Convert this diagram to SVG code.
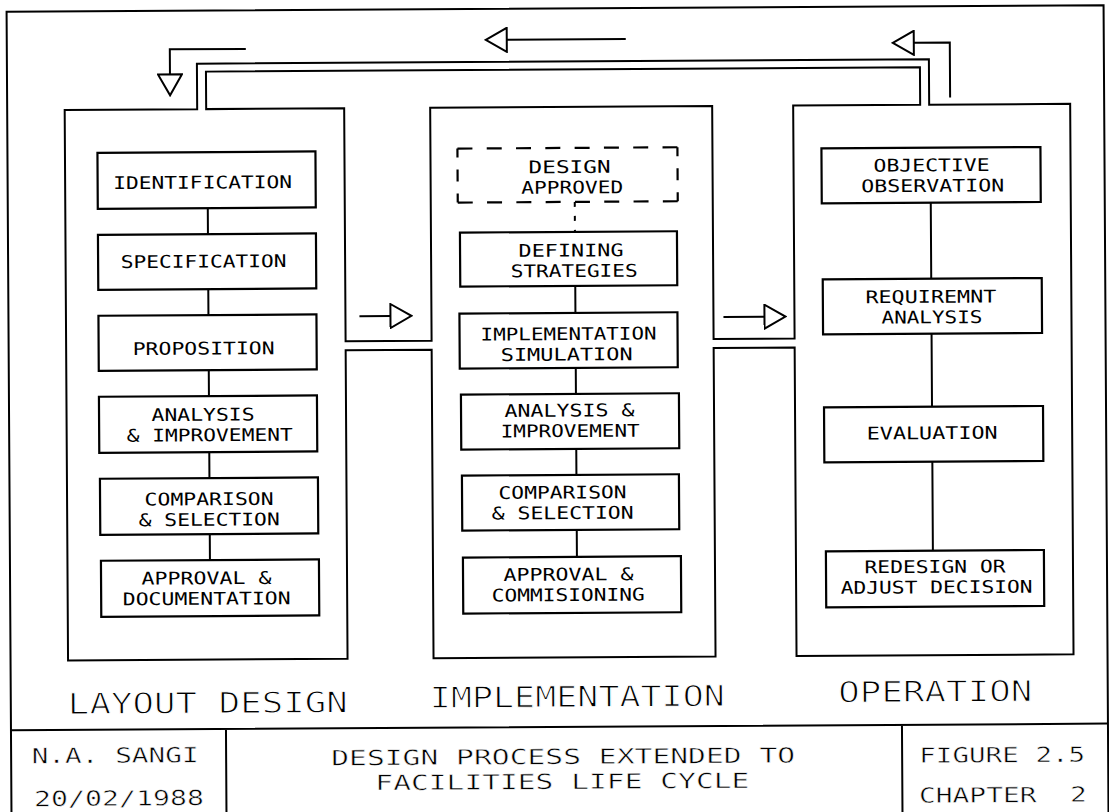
<svg xmlns="http://www.w3.org/2000/svg" width="1109" height="812" viewBox="0 0 1109 812">
<style>
  .ln { fill:none; stroke:#000; stroke-width:2; stroke-linejoin:miter; }
  .bx { fill:#fff; stroke:#000; stroke-width:2.2; }
  .dash { fill:none; stroke:#000; stroke-width:2.2; }
  .t { font-family:"DejaVu Sans Mono","Liberation Mono",monospace; font-size:17.5px; text-anchor:middle; fill:#000; }
  .lbl { font-size:29px; stroke:#fff; stroke-width:1; }
  .tb { font-size:21px; stroke:#fff; stroke-width:0.5; }
  .tt { font-size:21px; stroke:#fff; stroke-width:0.5; }
</style>
<defs>
  <marker id="tri" viewBox="0 0 24 26" refX="1" refY="13" markerWidth="24" markerHeight="26" markerUnits="userSpaceOnUse" orient="auto">
    <path d="M1,1 L22,13 L1,25 Z" fill="#fff" stroke="#000" stroke-width="2"/>
  </marker>
</defs>
<rect width="1109" height="812" fill="#fff"/>
<g transform="rotate(-0.35 554 406)">
  <g id="frame">
    <path class="ln" d="M9 830 V8.5 H1106 V830"/>
    <path class="ln" d="M9 727 H1106 M224 727 V830 M900 727 V830"/>
    <text class="t tb" x="113" y="760" textLength="167" lengthAdjust="spacingAndGlyphs">N.A. SANGI</text>
    <text class="t tb" x="116.5" y="803" textLength="170" lengthAdjust="spacingAndGlyphs">20/02/1988</text>
    <text class="t tt" x="561" y="764" textLength="464" lengthAdjust="spacingAndGlyphs">DESIGN PROCESS EXTENDED TO</text>
    <text class="t tt" x="560" y="789" textLength="374" lengthAdjust="spacingAndGlyphs">FACILITIES LIFE CYCLE</text>
    <text class="t tb" x="1000" y="765" textLength="166" lengthAdjust="spacingAndGlyphs">FIGURE 2.5</text>
    <text class="t tb" x="1000.5" y="805" textLength="168" lengthAdjust="spacingAndGlyphs" xml:space="preserve">CHAPTER  2</text>
  </g>

  <g id="phase-channel">
    <path class="ln" d="M66.5 107 H199 V61.5 H931 V107 H1072 V657.5 H795 V349 H714 V657.5 H432 V349 H346 V657.5 H66.5 Z"/>
    <path class="ln" d="M208 107 V69.5 H922 V107 H795 V340 H714 V107 H432 V340 H346 V107 Z"/>
  </g>

  <g id="layout-design">
    <text class="t lbl" x="206" y="711" textLength="280" lengthAdjust="spacingAndGlyphs">LAYOUT DESIGN</text>
  </g>
  <g id="implementation">
    <text class="t lbl" x="575.5" y="707" textLength="295" lengthAdjust="spacingAndGlyphs">IMPLEMENTATION</text>
  </g>
  <g id="operation">
    <text class="t lbl" x="933.5" y="704" textLength="194" lengthAdjust="spacingAndGlyphs">OPERATION</text>
  </g>

  <g id="connectors">
    <path class="ln" d="M209 206 V232 M209 287 V313 M209 368 V394 M209 450 V476 M209 532 V558"/>
    <path class="ln" d="M576 202 V232" stroke-dasharray="5 9"/>
    <path class="ln" d="M576 286 V313 M576 368 V394 M576 449 V475 M576 530 V557"/>
    <path class="ln" d="M932 205 V281 M932 336 V409 M932 464 V553"/>
    <path class="ln" d="M248 47 H172 V72" marker-end="url(#tri)"/>
    <path class="ln" d="M628 39.5 H509" marker-end="url(#tri)"/>
    <path class="ln" d="M952 100 V45 H916" marker-end="url(#tri)"/>
    <path class="ln" d="M360 315 H391" marker-end="url(#tri)"/>
    <path class="ln" d="M724 318 H765" marker-end="url(#tri)"/>
  </g>

  <g id="identification">
    <rect class="bx" x="99" y="150" width="218" height="56"/>
    <text class="t" x="204" y="186.4" textLength="179" lengthAdjust="spacingAndGlyphs">IDENTIFICATION</text>
  </g>
  <g id="specification">
    <rect class="bx" x="99" y="232" width="218" height="55"/>
    <text class="t" x="204.5" y="265.4" textLength="166" lengthAdjust="spacingAndGlyphs">SPECIFICATION</text>
  </g>
  <g id="proposition">
    <rect class="bx" x="99" y="313" width="218" height="55"/>
    <text class="t" x="204" y="352.4" textLength="142" lengthAdjust="spacingAndGlyphs">PROPOSITION</text>
  </g>
  <g id="analysis-improvement-1">
    <rect class="bx" x="99" y="394" width="218" height="56"/>
    <text class="t" x="203" y="418.6" textLength="103" lengthAdjust="spacingAndGlyphs">ANALYSIS</text>
    <text class="t" x="209.5" y="439.1" textLength="166" lengthAdjust="spacingAndGlyphs">&amp; IMPROVEMENT</text>
  </g>
  <g id="comparison-selection-1">
    <rect class="bx" x="99.5" y="476" width="218" height="56"/>
    <text class="t" x="208.5" y="503.1" textLength="129" lengthAdjust="spacingAndGlyphs">COMPARISON</text>
    <text class="t" x="208.5" y="523.6" textLength="141" lengthAdjust="spacingAndGlyphs">&amp; SELECTION</text>
  </g>
  <g id="approval-documentation">
    <rect class="bx" x="100" y="558" width="218" height="56"/>
    <text class="t" x="205.5" y="582.1" textLength="130" lengthAdjust="spacingAndGlyphs">APPROVAL &amp;</text>
    <text class="t" x="205.5" y="602.6" textLength="168" lengthAdjust="spacingAndGlyphs">DOCUMENTATION</text>
  </g>

  <g id="design-approved">
    <rect x="459" y="148" width="220" height="54" fill="#fff"/>
    <path class="dash" d="M459 148 H679 M459 202 H679" stroke-dasharray="15 14.3"/>
    <path class="dash" d="M459 148 V202 M679 148 V202" stroke-dasharray="9 12 12 12 9"/>
    <text class="t" x="571" y="173.1" textLength="82" lengthAdjust="spacingAndGlyphs">DESIGN</text>
    <text class="t" x="573.5" y="193.6" textLength="102" lengthAdjust="spacingAndGlyphs">APPROVED</text>
  </g>
  <g id="defining-strategies">
    <rect class="bx" x="461" y="232" width="217" height="54"/>
    <text class="t" x="572" y="256.6" textLength="105" lengthAdjust="spacingAndGlyphs">DEFINING</text>
    <text class="t" x="575" y="277.1" textLength="127" lengthAdjust="spacingAndGlyphs">STRATEGIES</text>
  </g>
  <g id="implementation-simulation">
    <rect class="bx" x="460" y="313" width="218" height="55"/>
    <text class="t" x="569" y="340.1" textLength="176" lengthAdjust="spacingAndGlyphs">IMPLEMENTATION</text>
    <text class="t" x="567" y="360.6" textLength="132" lengthAdjust="spacingAndGlyphs">SIMULATION</text>
  </g>
  <g id="analysis-improvement-2">
    <rect class="bx" x="461" y="394" width="218" height="55"/>
    <text class="t" x="569.5" y="416.6" textLength="130" lengthAdjust="spacingAndGlyphs">ANALYSIS &amp;</text>
    <text class="t" x="570" y="437.1" textLength="139" lengthAdjust="spacingAndGlyphs">IMPROVEMENT</text>
  </g>
  <g id="comparison-selection-2">
    <rect class="bx" x="461.5" y="475" width="217" height="55"/>
    <text class="t" x="562" y="498.6" textLength="128" lengthAdjust="spacingAndGlyphs">COMPARISON</text>
    <text class="t" x="562" y="519.1" textLength="142" lengthAdjust="spacingAndGlyphs">&amp; SELECTION</text>
  </g>
  <g id="approval-commisioning">
    <rect class="bx" x="462" y="557" width="218" height="56"/>
    <text class="t" x="567.5" y="580.6" textLength="130" lengthAdjust="spacingAndGlyphs">APPROVAL &amp;</text>
    <text class="t" x="567" y="601.1" textLength="153" lengthAdjust="spacingAndGlyphs">COMMISIONING</text>
  </g>

  <g id="objective-observation">
    <rect class="bx" x="823" y="150" width="219" height="55"/>
    <text class="t" x="933" y="173.6" textLength="116" lengthAdjust="spacingAndGlyphs">OBJECTIVE</text>
    <text class="t" x="934" y="194.1" textLength="143" lengthAdjust="spacingAndGlyphs">OBSERVATION</text>
  </g>
  <g id="requirement-analysis">
    <rect class="bx" x="823.5" y="281" width="219" height="55"/>
    <text class="t" x="931.5" y="305.1" textLength="131" lengthAdjust="spacingAndGlyphs">REQUIREMNT</text>
    <text class="t" x="932.5" y="325.6" textLength="101" lengthAdjust="spacingAndGlyphs">ANALYSIS</text>
  </g>
  <g id="evaluation">
    <rect class="bx" x="824" y="409" width="219" height="55"/>
    <text class="t" x="932" y="441.4" textLength="131" lengthAdjust="spacingAndGlyphs">EVALUATION</text>
  </g>
  <g id="redesign-adjust">
    <rect class="bx" x="825" y="553" width="218" height="56"/>
    <text class="t" x="934" y="575.1" textLength="141" lengthAdjust="spacingAndGlyphs">REDESIGN OR</text>
    <text class="t" x="935.5" y="595.6" textLength="192" lengthAdjust="spacingAndGlyphs">ADJUST DECISION</text>
  </g>
</g>
</svg>
